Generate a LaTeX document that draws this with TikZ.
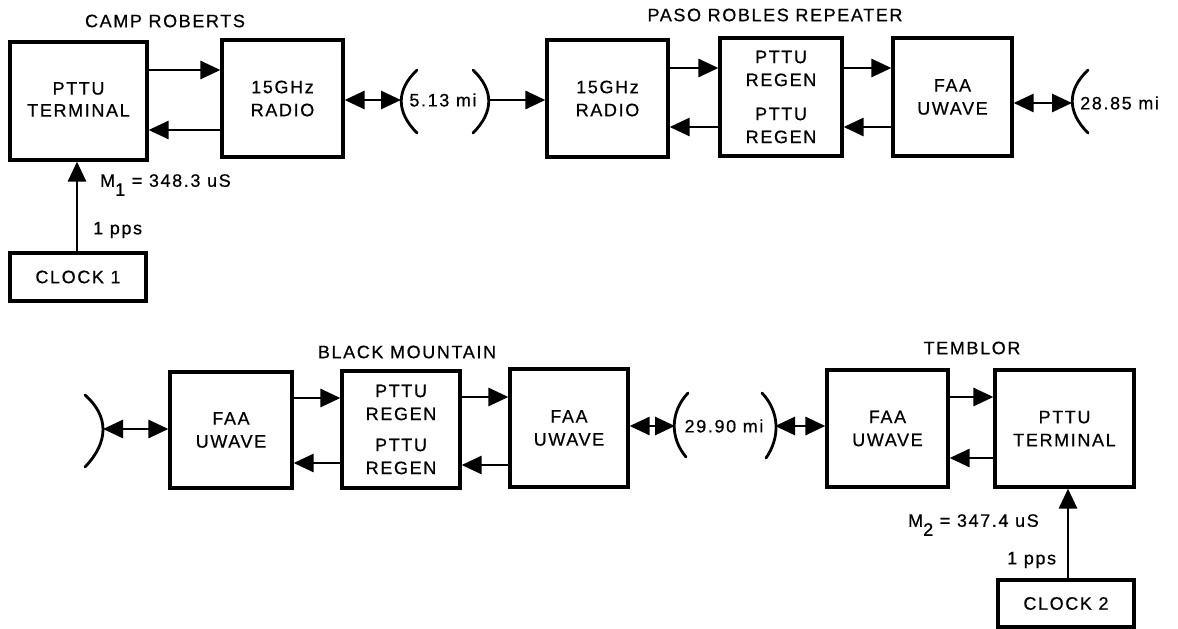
\documentclass[tikz,border=0pt]{standalone}
\usepackage{fontspec}
\setmainfont[LetterSpace=9,FakeBold=0.6]{Liberation Sans}
\usetikzlibrary{arrows.meta}
\begin{document}
\begin{tikzpicture}[x=1pt,y=-1pt,
  box/.style={draw, line width=3.2pt, align=center, inner sep=0pt, font=\fontsize{18}{23}\selectfont},
  lbl/.style={font=\fontsize{18}{22}\selectfont, inner sep=0pt},
  tip/.tip={Triangle[length=20pt,width=18pt]},
  arr/.style={line width=2.8pt, -tip},
  darr/.style={line width=2.8pt, tip-tip},
  paren/.style={line width=2.8pt, line cap=round}]
\useasboundingbox (0,0) rectangle (1178,629);

% ---------- top row ----------
\node[box, minimum width=137pt, minimum height=118pt] (T1) at (78.5,101)
  {\raisebox{9pt}{\begin{tabular}{@{}c@{}}PTTU\\[-1pt]TERMINAL\end{tabular}}};
\node[box, minimum width=121pt, minimum height=117pt] (R1) at (282.5,98.5) {15GHz\\RADIO};
\node[box, minimum width=136pt, minimum height=48pt] (C1) at (78,277) {CLOCK 1};
\node[box, minimum width=121pt, minimum height=117pt] (R2) at (607.5,98.5) {15GHz\\RADIO};
\node[box, minimum width=122pt, minimum height=118pt] (G1) at (781,97) {PTTU\\REGEN\\[11pt]PTTU\\REGEN};
\node[box, minimum width=119pt, minimum height=118pt] (F1) at (952.5,97) {FAA\\UWAVE};

\node[lbl] (tCR) at (165,21) {CAMP ROBERTS};
\node[lbl] (tPR) at (775,15) {PASO ROBLES REPEATER};
\node[lbl, anchor=west] (m1) at (100,185) {M\raisebox{-9pt}{1} = 348.3 uS};
\node[lbl, anchor=west] (pp1) at (93,230) {1 pps};

\draw[arr] (T1.east |- 0,70) -- (R1.west |- 0,70);
\draw[arr] (R1.west |- 0,130) -- (T1.east |- 0,130);
\draw[arr] (C1.north -| 77,0) -- (T1.south -| 77,0);
\draw[arr] (R2.east |- 0,68) -- (G1.west |- 0,68);
\draw[arr] (G1.west |- 0,127) -- (R2.east |- 0,127);
\draw[arr] (G1.east |- 0,68) -- (F1.west |- 0,68);
\draw[arr] (F1.west |- 0,127) -- (G1.east |- 0,127);

% link 5.13 mi
\draw[paren] (417,70) .. controls (396,90) and (396,112) .. (417,133);
\coordinate (p1l) at (401,100);
\node[lbl] (d1) at (443,100) {5.13 mi};
\draw[paren] (473,70) .. controls (494,90) and (494,112) .. (473,133);
\coordinate (p1r) at (489,100);
\draw[darr] (R1.east |- 0,100) -- (p1l);
\draw[arr] (p1r) -- (R2.west |- 0,100);

% link 28.85 mi
\draw[paren] (1088,70) .. controls (1067,90) and (1067,112) .. (1088,133);
\coordinate (p2l) at (1072,103);
\node[lbl, anchor=west] (d2) at (1080,103) {28.85 mi};
\draw[darr] (F1.east |- 0,103) -- (p2l);

% ---------- bottom row ----------
\node[box, minimum width=122pt, minimum height=116pt] (F2) at (231,430) {FAA\\UWAVE};
\node[box, minimum width=118pt, minimum height=117pt] (G2) at (401,429.5) {PTTU\\REGEN\\[8pt]PTTU\\REGEN};
\node[box, minimum width=118pt, minimum height=118pt] (F3) at (569,428) {FAA\\UWAVE};
\node[box, minimum width=121pt, minimum height=117pt] (F4) at (887.5,428.5) {FAA\\UWAVE};
\node[box, minimum width=139pt, minimum height=117pt] (T2) at (1064.5,428.5) {PTTU\\TERMINAL};
\node[box, minimum width=136pt, minimum height=47pt] (C2) at (1066,603.5) {CLOCK 2};

\node[lbl] (tBM) at (407,352) {BLACK MOUNTAIN};
\node[lbl] (tTB) at (972,348) {TEMBLOR};
\node[lbl, anchor=west] (m2) at (908,525) {M\raisebox{-9pt}{2} = 347.4 uS};
\node[lbl, anchor=west] (pp2) at (1007,560) {1 pps};

\draw[arr] (F2.east |- 0,398) -- (G2.west |- 0,398);
\draw[arr] (G2.west |- 0,463) -- (F2.east |- 0,463);
\draw[arr] (G2.east |- 0,397) -- (F3.west |- 0,397);
\draw[arr] (F3.west |- 0,465) -- (G2.east |- 0,465);
\draw[arr] (F4.east |- 0,397) -- (T2.west |- 0,397);
\draw[arr] (T2.west |- 0,458) -- (F4.east |- 0,458);
\draw[arr] (C2.north -| 1068,0) -- (T2.south -| 1068,0);

% left antenna
\draw[paren] (85,395) .. controls (109,416) and (109,442) .. (85,467);
\coordinate (p3) at (103,429);
\draw[darr] (p3) -- (F2.west |- 0,429);

% link 29.90 mi
\draw[paren] (688,393) .. controls (670,412) and (670,438) .. (686,457);
\coordinate (p4l) at (675,426);
\node[lbl] (d4) at (724,426) {29.90 mi};
\draw[paren] (762,393) .. controls (780,412) and (780,438) .. (766,458);
\coordinate (p4r) at (775,426);
\draw[darr] (F3.east |- 0,426) -- (p4l);
\draw[darr] (p4r) -- (F4.west |- 0,426);
\end{tikzpicture}
\end{document}
